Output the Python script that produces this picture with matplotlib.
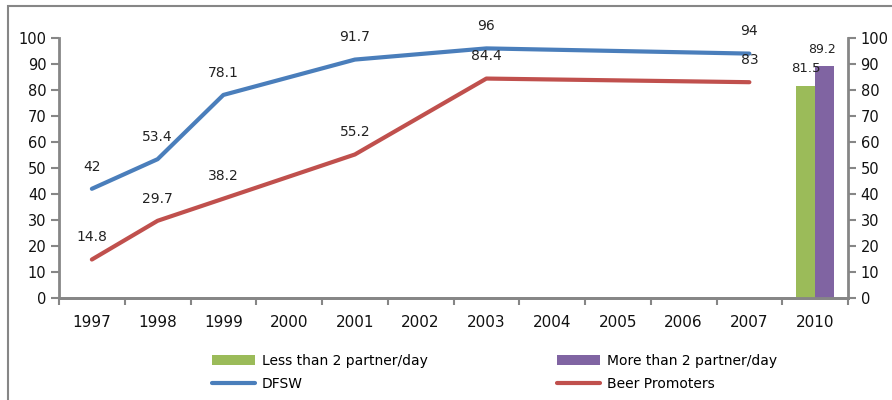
import numpy as np
import matplotlib.pyplot as plt
from matplotlib.patches import Rectangle

plt.rcParams['font.family'] = ['DejaVu Sans']

years = ['1997', '1998', '1999', '2000', '2001', '2002', '2003',
         '2004', '2005', '2006', '2007', '2010']

# surveyed years only; the lines join the available points
dfsw_years = ['1997', '1998', '1999', '2001', '2003', '2007']
dfsw = [42, 53.4, 78.1, 91.7, 96, 94]
beer_years = ['1997', '1998', '1999', '2001', '2003', '2007']
beer = [14.8, 29.7, 38.2, 55.2, 84.4, 83]

bar_year = '2010'
less_than_2 = 81.5
more_than_2 = 89.2

c_blue = '#4A7EBB'
c_red = '#C0504D'
c_green = '#9BBB59'
c_purple = '#8064A2'
c_axis = '#868686'

fig = plt.figure(figsize=(8.92, 4), dpi=100)
ax = fig.add_axes([59 / 892, 102 / 400, 789 / 892, 260 / 400])
ax2 = ax.twinx()

xpos = {y: i for i, y in enumerate(years)}
xd = [xpos[y] for y in dfsw_years]
xb = [xpos[y] for y in beer_years]

l1, = ax.plot(xd, dfsw, color=c_blue, lw=3, solid_capstyle='round', label='DFSW', zorder=3)
l2, = ax.plot(xb, beer, color=c_red, lw=3, solid_capstyle='round', label='Beer Promoters', zorder=3)

for x, v in zip(xd, dfsw):
    ax.annotate('{:g}'.format(v), (x, v), xytext=(0, 16), textcoords='offset points',
                ha='center', va='center', fontsize=10, color='#222222')
for x, v in zip(xb, beer):
    ax.annotate('{:g}'.format(v), (x, v), xytext=(0, 16), textcoords='offset points',
                ha='center', va='center', fontsize=10, color='#222222')

bw = 0.29
xc = xpos[bar_year]
b1 = ax2.bar(xc - bw / 2, less_than_2, bw, color=c_green, label='Less than 2 partner/day')
b2 = ax2.bar(xc + bw / 2, more_than_2, bw, color=c_purple, label='More than 2 partner/day')
ax2.annotate('{:g}'.format(less_than_2), (xc - bw / 2, less_than_2), xytext=(0, 13),
             textcoords='offset points', ha='center', va='center', fontsize=9.5, color='#222222')
ax2.annotate('{:g}'.format(more_than_2), (xc + bw / 2 - 0.04, more_than_2), xytext=(0, 12),
             textcoords='offset points', ha='center', va='center', fontsize=9, color='#222222')

for a in (ax, ax2):
    a.set_ylim(0, 100)
    a.set_yticks(np.arange(0, 101, 10))
    a.set_xlim(-0.5, len(years) - 0.5)
    a.spines['top'].set_visible(False)
    for s in ('left', 'right', 'bottom'):
        a.spines[s].set_color(c_axis)
        a.spines[s].set_linewidth(2)
    a.tick_params(axis='y', direction='out', length=6, width=1.5, color=c_axis,
                  labelsize=10.5, labelcolor='#111111', pad=3)

ax.spines['right'].set_visible(False)
ax2.spines['left'].set_visible(False)

ax.set_xticks(range(len(years)))
ax.set_xticklabels(years, fontsize=11, color='#111111')
ax.set_xticks(np.arange(-0.5, len(years), 1), minor=True)
ax.tick_params(axis='x', which='major', length=0, pad=12)
ax.tick_params(axis='x', which='minor', length=5, width=1.5, color=c_axis)

# outer frame
fig.patches.append(Rectangle((8 / 892, -0.1), 1.2, 0.1 + 394 / 400, transform=fig.transFigure,
                             fill=False, edgecolor=c_axis, lw=1.5))

fig.legend([b1, l1, b2, l2],
           ['Less than 2 partner/day', 'DFSW', 'More than 2 partner/day', 'Beer Promoters'],
           ncol=2, frameon=False, loc='upper left', bbox_to_anchor=(205 / 892, 1 - 347 / 400),
           borderpad=0, handlelength=3.1, handleheight=0.7, handletextpad=0.5,
           columnspacing=9.3, labelspacing=0.65, fontsize=10)

fig.savefig('out.png', dpi=100)
